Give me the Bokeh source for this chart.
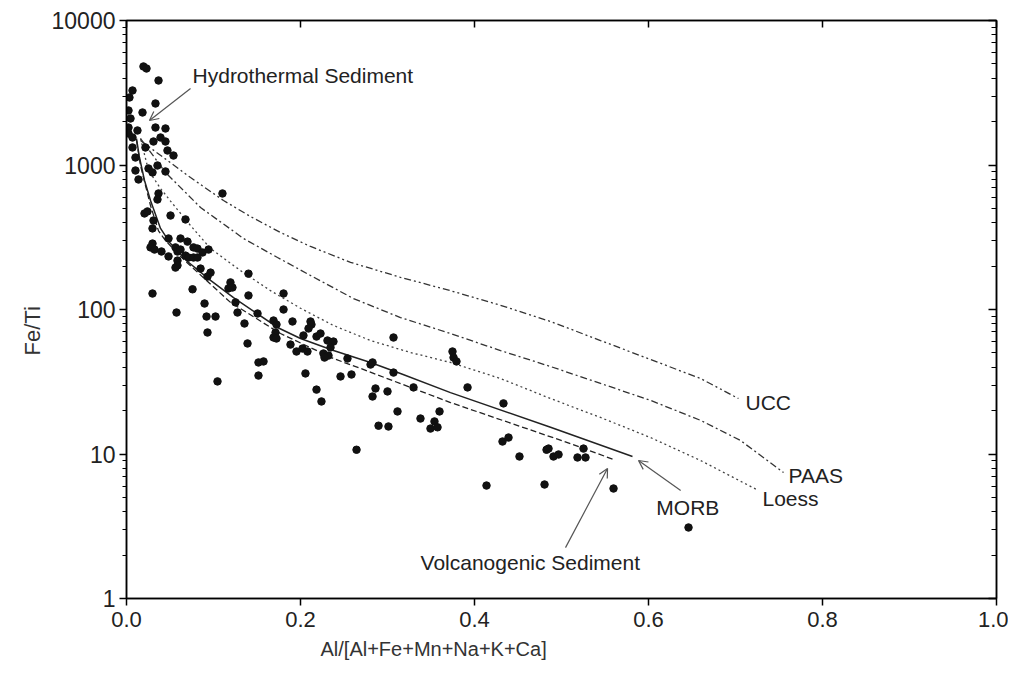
from bokeh.plotting import figure
from bokeh.models import (Range1d, LinearAxis, LogAxis, FixedTicker, PrintfTickFormatter,
                          CustomJSTickFormatter, Arrow, OpenHead, Label, Title, ColumnDataSource)
from bokeh.embed import file_html
from bokeh.resources import INLINE

# ---- scatter data: Al/(Al+Fe+Mn+Na+K+Ca) vs Fe/Ti ----
al_ratio = [0.0195, 0.0230, 0.0368, 0.0069, 0.0333, 0.0034, 0.0023, 0.0184, 0.0046, 0.0023,
            0.0126, 0.0333, 0.0448, 0.0023, 0.0069, 0.0310, 0.0391, 0.0448, 0.0069, 0.0218,
            0.0471, 0.0103, 0.0356, 0.0540, 0.0103, 0.0253, 0.0448, 0.0138, 0.0299, 0.1103,
            0.0368, 0.0356, 0.0207, 0.0241, 0.0506, 0.0310, 0.0678, 0.0299, 0.0483, 0.0621,
            0.0701, 0.0299, 0.0276, 0.0322, 0.0402, 0.0483, 0.0563, 0.0586, 0.0621, 0.0770,
            0.0816, 0.0874, 0.0943, 0.0678, 0.0713, 0.0770, 0.0816, 0.0586, 0.0586, 0.0563,
            0.0851, 0.0966, 0.0931, 0.1402, 0.1195, 0.1172, 0.1218, 0.0759, 0.0299, 0.1402,
            0.0897, 0.1253, 0.1276, 0.0920, 0.1023, 0.0931, 0.1356, 0.1506, 0.1805, 0.1805,
            0.1690, 0.1724, 0.1713, 0.1690, 0.1724, 0.1391, 0.1908, 0.1885, 0.1954, 0.2023,
            0.2080, 0.2034, 0.2115, 0.2126, 0.2092, 0.2184, 0.2230, 0.2310, 0.2379, 0.2345,
            0.2264, 0.2322, 0.2276, 0.2540, 0.1517, 0.1575, 0.1517, 0.2057, 0.2460, 0.2586,
            0.1046, 0.2184, 0.2241, 0.3069, 0.2828, 0.2805, 0.3069, 0.2862, 0.2828, 0.3000,
            0.3299, 0.3747, 0.3759, 0.3793, 0.3920, 0.3115, 0.3379, 0.3540, 0.3598, 0.3494,
            0.3575, 0.2897, 0.3011, 0.2644, 0.4333, 0.4322, 0.4391, 0.4517, 0.4828, 0.4851,
            0.4908, 0.4966, 0.5184, 0.5253, 0.5276, 0.4138, 0.4805, 0.5598, 0.6460, 0.0575]
fe_ti = [4806, 4654, 3844, 3278, 2665, 2932, 2384, 2309, 2098, 1817,
         1733, 1817, 1789, 1652, 1550, 1454, 1550, 1454, 1322, 1322,
         1260, 1127, 992, 1163, 916, 946, 902, 794, 888, 635,
         635, 577, 462, 477, 447, 413, 420, 364, 310, 310,
         295, 286, 269, 260, 252, 233, 269, 252, 260, 269,
         264, 248, 260, 236, 229, 229, 229, 218, 202, 195,
         192, 180, 169, 177, 154, 140, 142, 138, 129, 125,
         110, 112, 95.3, 89.4, 89.4, 69.3, 80.0, 93.8, 129, 100,
         83.9, 78.7, 69.3, 64.0, 63.0, 58.2, 82.6, 57.2, 51.2, 53.7,
         51.2, 66.1, 82.6, 78.7, 73.9, 65.0, 68.2, 61.0, 60.0, 54.6,
         49.6, 48.0, 46.5, 45.8, 43.0, 43.7, 34.9, 36.1, 34.4, 35.5,
         31.8, 27.9, 23.1, 64.0, 43.0, 41.6, 36.6, 28.4, 25.0, 27.1,
         28.9, 51.2, 46.5, 43.7, 28.9, 19.7, 17.6, 16.8, 19.7, 15.0,
         15.3, 15.7, 15.5, 10.7, 22.4, 12.2, 13.0, 9.61, 10.7, 10.9,
         9.61, 9.92, 9.46, 10.9, 9.46, 6.05, 6.15, 5.77, 3.10, 95.3]

# ---- mixing curves ----
morb_x = [0.0115, 0.0149, 0.0207, 0.0276, 0.0391, 0.0506, 0.0701, 0.0966, 0.1230, 0.1736,
          0.2000, 0.2379, 0.2805, 0.3149, 0.3724, 0.4874, 0.5816]
morb_y = [1525, 1127, 781, 568, 364, 286, 215, 159, 121, 75.1,
          63.0, 52.0, 43.0, 36.1, 26.6, 15.3, 9.61]

volc_x = [0.0115, 0.0161, 0.0276, 0.0368, 0.0448, 0.0621, 0.0770, 0.1195, 0.1770, 0.2379,
          0.2690, 0.3724, 0.5103, 0.5598]
volc_y = [1478, 992, 524, 350, 300, 233, 192, 112, 68.2, 45.8, 39.1, 22.7, 11.8, 9.16]

loess_x = [0.0161, 0.0253, 0.0391, 0.0529, 0.0736, 0.0966, 0.1310, 0.1655, 0.2000, 0.2379,
           0.2805, 0.3264, 0.3724, 0.4299, 0.4874, 0.5448, 0.6023, 0.6598, 0.7264]
loess_y = [1525, 916, 688, 541, 381, 264, 186, 135, 102, 77.5,
           61.0, 50.4, 43.0, 33.3, 24.2, 17.9, 13.0, 9.02, 5.59]

paas_x = [0.0161, 0.0448, 0.0851, 0.1345, 0.1736, 0.2115, 0.2609, 0.3149, 0.3724, 0.4299,
          0.4874, 0.5448, 0.6023, 0.6598, 0.7057, 0.7552]
paas_y = [1525, 888, 508, 310, 229, 172, 119, 88.0, 68.2, 52.0,
          40.3, 30.8, 23.5, 17.1, 12.4, 7.45]

ucc_x = [0.0161, 0.0471, 0.0736, 0.1115, 0.1425, 0.1770, 0.2115, 0.2575, 0.3149, 0.3724,
         0.4299, 0.4874, 0.5448, 0.6023, 0.6598, 0.7034]
ucc_y = [1478, 1074, 819, 568, 440, 341, 273, 212, 167, 135,
         107, 82.6, 61.0, 45.1, 33.3, 24.2]

# ---- annotations ----
label_texts = ["Hydrothermal Sediment", "UCC", "PAAS", "Loess", "MORB", "Volcanogenic Sediment"]
label_x = [0.0759, 0.7115, 0.761, 0.731, 0.609, 0.338]
label_y = [4160, 22.7, 7.10, 4.92, 4.26, 1.775]

arrow_start_x = [0.0736, 0.637, 0.5046]
arrow_start_y = [3383, 5.59, 2.25]
arrow_end_x = [0.0264, 0.5885, 0.5529]
arrow_end_y = [2032, 9.02, 7.94]

x_title = "Al/[Al+Fe+Mn+Na+K+Ca]"
y_title = "Fe/Ti"

y_major = [1, 10, 100, 1000, 10000]
y_minor = [m * d for d in [1, 10, 100, 1000] for m in range(2, 10)]
x_major = [0.0, 0.2, 0.4, 0.6, 0.8, 1.0]

FONT = "Liberation Sans"
INK = "#222222"

p = figure(width=1008, height=683, output_backend="svg", toolbar_location=None,
           y_axis_type="log", x_range=Range1d(0, 1), y_range=Range1d(1, 10000),
           min_border_left=126, min_border_right=12, min_border_top=20, min_border_bottom=85)
p.grid.visible = False
p.outline_line_color = "black"
p.outline_line_width = 1.5
p.background_fill_color = "white"
p.border_fill_color = "white"

xa = p.xaxis[0]
xa.ticker = FixedTicker(ticks=x_major, minor_ticks=[])
xa.formatter = PrintfTickFormatter(format="%.1f")
ya = p.yaxis[0]
ya.ticker = FixedTicker(ticks=y_major, minor_ticks=y_minor)
ya.formatter = PrintfTickFormatter(format="%d")

for ax in (xa, ya):
    ax.axis_line_color = "black"
    ax.axis_line_width = 1.5
    ax.major_tick_line_color = "black"
    ax.major_tick_line_width = 1.5
    ax.minor_tick_line_color = "black"
    ax.minor_tick_line_width = 1.2
    ax.major_tick_in = 0
    ax.major_tick_out = 7
    ax.minor_tick_in = 0
    ax.minor_tick_out = 4
    ax.major_label_text_font = FONT
    ax.major_label_text_color = INK
xa.major_label_text_font_size = "22px"
ya.major_label_text_font_size = "23px"
xa.major_label_standoff = 6
ya.major_label_standoff = 4

blank = CustomJSTickFormatter(code="return ''")
top = LinearAxis(ticker=FixedTicker(ticks=x_major, minor_ticks=[]), formatter=blank,
                 major_tick_in=7, major_tick_out=0, axis_line_width=1.5,
                 major_tick_line_width=1.5, major_label_text_font_size="0px")
p.add_layout(top, "above")
right = LogAxis(ticker=FixedTicker(ticks=y_major, minor_ticks=y_minor), formatter=blank,
                major_tick_in=8, major_tick_out=0, minor_tick_in=5, minor_tick_out=0,
                axis_line_width=1.5, major_tick_line_width=1.5, minor_tick_line_width=1.2,
                major_label_text_font_size="0px")
p.add_layout(right, "right")

# axis titles as side titles, offset like the original (not centred on the frame)
p.add_layout(Title(text=x_title, align="left", offset=194, standoff=12,
                   text_font=FONT, text_font_size="20px", text_font_style="normal",
                   text_color="#333333"), "below")
p.add_layout(Title(text=y_title, align="left", offset=243, standoff=8,
                   text_font=FONT, text_font_size="22px", text_font_style="normal",
                   text_color="#333333"), "left")

# curves
p.line(ucc_x, ucc_y, line_color="#333333", line_width=1.3, line_dash="7 3 2 3 2 3")
p.line(paas_x, paas_y, line_color="#333333", line_width=1.3, line_dash="7 3 2 3")
p.line(loess_x, loess_y, line_color="#444444", line_width=1.3, line_dash="2 3")
p.line(volc_x, volc_y, line_color="#222222", line_width=1.3, line_dash="6 3")
p.line(morb_x, morb_y, line_color="#222222", line_width=1.5)

# points
src = ColumnDataSource(dict(x=al_ratio, y=fe_ti))
p.scatter("x", "y", source=src, size=7.5, fill_color="#111111", line_color="#111111")

# arrows
for sx, sy, ex, ey in zip(arrow_start_x, arrow_start_y, arrow_end_x, arrow_end_y):
    p.add_layout(Arrow(x_start=sx, y_start=sy, x_end=ex, y_end=ey,
                       line_color="#555555", line_width=1.2,
                       end=OpenHead(size=9, line_color="#555555", line_width=1.2)))

for t, lx, ly in zip(label_texts, label_x, label_y):
    p.add_layout(Label(x=lx, y=ly, text=t, text_font=FONT, text_font_size="21px",
                       text_color=INK, text_baseline="middle", text_align="left"))

open("out.html", "w").write(file_html(p, INLINE))
